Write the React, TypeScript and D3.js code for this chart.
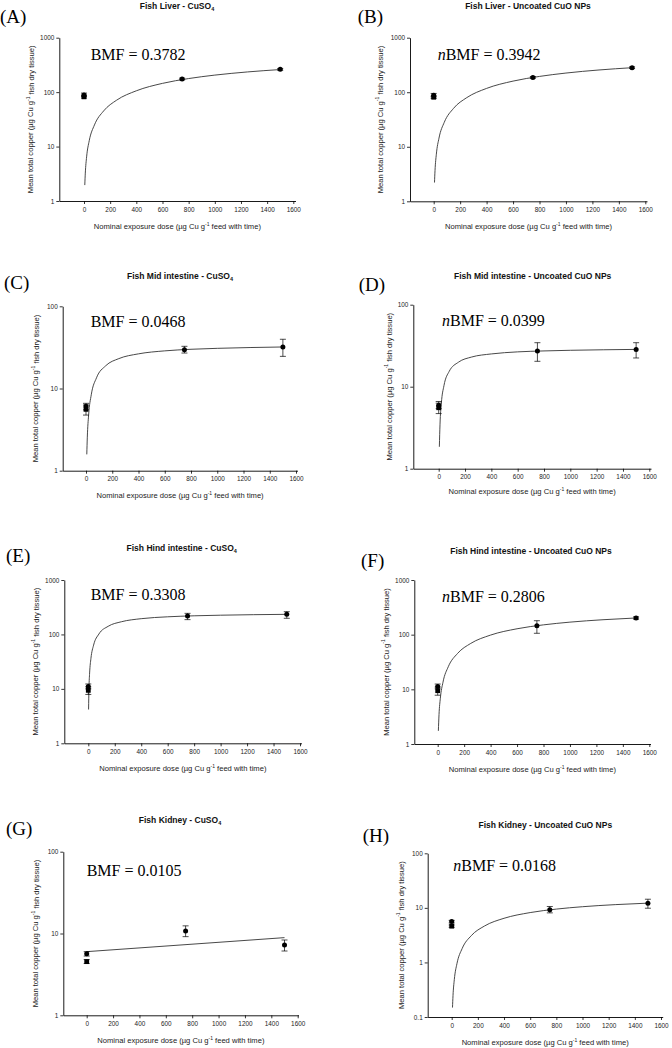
import React, { useEffect, useRef } from 'react';
import * as d3 from 'd3';

// ---------- data ----------
const doses = [0, 0, 750, 1500];
const markerShapes = ['circle', 'square', 'circle', 'circle'];
const xTicks = [0, 200, 400, 600, 800, 1000, 1200, 1400, 1600];

const panelLetters = ['(A)', '(B)', '(C)', '(D)', '(E)', '(F)', '(G)', '(H)'];
const titleMain = [
  'Fish Liver - CuSO',
  'Fish Liver - Uncoated CuO NPs',
  'Fish Mid intestine - CuSO',
  'Fish Mid intestine - Uncoated CuO NPs',
  'Fish Hind intestine - CuSO',
  'Fish Hind intestine - Uncoated CuO NPs',
  'Fish Kidney - CuSO',
  'Fish Kidney - Uncoated CuO NPs',
];
const titleSub = ['4', '', '4', '', '4', '', '4', ''];
const bmfPrefix = ['', 'n', '', 'n', '', 'n', '', 'n'];
const bmfValues = ['0.3782', '0.3942', '0.0468', '0.0399', '0.3308', '0.2806', '0.0105', '0.0168'];

const yTicks1000 = [1, 10, 100, 1000];
const yTicks100 = [1, 10, 100];
const yTicksH = [0.1, 1, 10, 100];

// means, lower and upper error limits at doses [0(control 1), 0(control 2), 750, 1500]
const liverCuSO4Mean = [89, 82, 174, 262];
const liverCuSO4Low = [83, 78, 168, 252];
const liverCuSO4High = [96, 86, 181, 272];

const liverNPMean = [88, 81, 187, 282];
const liverNPLow = [82, 77, 180, 272];
const liverNPHigh = [95, 85, 194, 292];

const midCuSO4Mean = [6.07, 5.58, 29.7, 32];
const midCuSO4Low = [5.5, 4.75, 27, 24.6];
const midCuSO4High = [6.6, 6.3, 32.6, 39.7];

const midNPMean = [5.92, 5.54, 27.2, 28.5];
const midNPLow = [5.4, 4.7, 20.4, 22.4];
const midNPHigh = [6.6, 6.3, 34.4, 34.4];

const hindCuSO4Mean = [11.1, 9.4, 218, 234];
const hindCuSO4Low = [10, 7.9, 187, 198];
const hindCuSO4High = [12.3, 10.9, 244, 262];

const hindNPMean = [11.3, 9.45, 146, 202];
const hindNPLow = [10.2, 7.8, 106, 192];
const hindNPHigh = [12.5, 11, 180, 212];

const kidneyCuSO4Mean = [5.67, 4.53, 10.7, 7.23];
const kidneyCuSO4Low = [5.3, 4.3, 9.15, 6.11];
const kidneyCuSO4High = [6.0, 4.8, 12.4, 8.33];

const kidneyNPMean = [5.62, 4.62, 9.2, 12.2];
const kidneyNPLow = [5.3, 4.4, 8.1, 9.85];
const kidneyNPHigh = [5.9, 4.85, 10.6, 14.4];

// fitted curves: [dose, value]
const liverCuSO4Fit = [[6, 1.96], [10, 3.25], [20, 6.47], [40, 12.8], [80, 25.0], [150, 45.1], [250, 71.3], [400, 105.8], [600, 144.9], [800, 177.6], [1000, 205.5], [1250, 235], [1500, 259.9]];
const liverNPFit = [[6, 2.21], [10, 3.68], [20, 7.3], [40, 14.4], [80, 28.1], [150, 50.6], [250, 79.6], [400, 117.6], [600, 160], [800, 195], [1000, 224.8], [1250, 255.9], [1500, 281.9]];
const midCuSO4Fit = [[6, 1.58], [10, 2.56], [20, 4.77], [40, 8.38], [80, 13.5], [150, 18.9], [250, 23.1], [400, 26.4], [600, 28.7], [800, 30.0], [1000, 30.8], [1250, 31.5], [1500, 32.0]];
const midNPFit = [[5, 1.85], [10, 3.49], [20, 6.26], [40, 10.3], [80, 15.4], [150, 19.9], [250, 23.0], [400, 25.1], [600, 26.6], [800, 27.3], [1000, 27.8], [1250, 28.2], [1500, 28.5]];
const hindCuSO4Fit = [[2, 4.18], [5, 10.2], [10, 19.6], [20, 36.4], [40, 63.6], [80, 101.7], [150, 141], [250, 171], [400, 194.7], [600, 210.8], [800, 219.9], [1000, 225.7], [1250, 230.6], [1500, 234]];
const hindNPFit = [[5, 1.74], [10, 3.47], [20, 6.87], [40, 13.5], [80, 25.9], [150, 45.3], [250, 69.2], [400, 98.3], [600, 128.2], [800, 151.2], [1000, 169.5], [1250, 187.6], [1500, 202]];
const kidneyCuSO4Fit = [[0, 6.0], [1500, 8.9]];
const kidneyNPFit = [[6, 0.149], [10, 0.246], [20, 0.486], [40, 0.946], [80, 1.8], [150, 3.1], [250, 4.64], [400, 6.44], [600, 8.2], [800, 9.5], [1000, 10.5], [1250, 11.46], [1500, 12.2]];

const panelMeans = [liverCuSO4Mean, liverNPMean, midCuSO4Mean, midNPMean, hindCuSO4Mean, hindNPMean, kidneyCuSO4Mean, kidneyNPMean];
const panelLows = [liverCuSO4Low, liverNPLow, midCuSO4Low, midNPLow, hindCuSO4Low, hindNPLow, kidneyCuSO4Low, kidneyNPLow];
const panelHighs = [liverCuSO4High, liverNPHigh, midCuSO4High, midNPHigh, hindCuSO4High, hindNPHigh, kidneyCuSO4High, kidneyNPHigh];
const panelFits = [liverCuSO4Fit, liverNPFit, midCuSO4Fit, midNPFit, hindCuSO4Fit, hindNPFit, kidneyCuSO4Fit, kidneyNPFit];
const panelYTicks = [yTicks1000, yTicks1000, yTicks100, yTicks100, yTicks1000, yTicks1000, yTicks100, yTicksH];

// ---------- layout ----------
const layouts = [
  { axisX: 59.3, x0: 84, x1600: 293.3, xEnd: 295.5, yTop: 37.7, yBot: 201, titleX: 177, titleY: 9.3, letterX: 0, letterY: 22.7, bmfX: 90.7, bmfY: 60, yLabelX: 30.7, xLabelY: 228.5 },
  { axisX: 410, x0: 433.7, x1600: 645.3, xEnd: 647, yTop: 37.7, yBot: 201.3, titleX: 528, titleY: 9.3, letterX: 357.7, letterY: 22.7, bmfX: 437.7, bmfY: 60, yLabelX: 380.3, xLabelY: 228.5 },
  { axisX: 62.7, x0: 86, x1600: 296, xEnd: 297.5, yTop: 306.3, yBot: 470.7, titleX: 180, titleY: 279.3, letterX: 4, letterY: 289, bmfX: 90.7, bmfY: 327, yLabelX: 35.7, xLabelY: 497.7 },
  { axisX: 413.3, x0: 438.7, x1600: 649.3, xEnd: 651, yTop: 304.7, yBot: 468.7, titleX: 532.7, titleY: 278.7, letterX: 358.7, letterY: 291.3, bmfX: 442, bmfY: 326.3, yLabelX: 389.3, xLabelY: 494.3 },
  { axisX: 64.3, x0: 88.3, x1600: 300, xEnd: 301.5, yTop: 580, yBot: 743.3, titleX: 181.7, titleY: 551.3, letterX: 6, letterY: 561.7, bmfX: 90.7, bmfY: 600, yLabelX: 35.7, xLabelY: 770.7 },
  { axisX: 414.3, x0: 437.7, x1600: 649.3, xEnd: 650.5, yTop: 580, yBot: 744, titleX: 531, titleY: 554, letterX: 361, letterY: 566.7, bmfX: 442, bmfY: 602.3, yLabelX: 386, xLabelY: 772.3 },
  { axisX: 63.3, x0: 86.7, x1600: 297.7, xEnd: 298.5, yTop: 851.7, yBot: 1015.3, titleX: 180, titleY: 822.7, letterX: 6, letterY: 835.3, bmfX: 86.7, bmfY: 876, yLabelX: 35.7, xLabelY: 1043.3 },
  { axisX: 427.7, x0: 451.7, x1600: 661, xEnd: 662.7, yTop: 853.3, yBot: 1017, titleX: 545.3, titleY: 827.7, letterX: 362.7, letterY: 842, bmfX: 453.3, bmfY: 871, yLabelX: 401, xLabelY: 1045 },
];

const SANS = '"Liberation Sans", Arial, sans-serif';
const SERIF = '"Liberation Serif", "Times New Roman", serif';

function Panel({ i }: { i: number }) {
  const L = layouts[i];
  const xAxisRef = useRef<SVGGElement>(null);
  const yAxisRef = useRef<SVGGElement>(null);
  const yt = panelYTicks[i];
  const xs = d3.scaleLinear().domain([0, 1600]).range([L.x0, L.x1600]);
  const xAxisScale = d3.scaleLinear().domain([xs.invert(L.axisX), xs.invert(L.xEnd)]).range([L.axisX, L.xEnd]);
  const ys = d3.scaleLog().domain([yt[0], yt[yt.length - 1]]).range([L.yBot, L.yTop]);

  useEffect(() => {
    const gx = d3.select(xAxisRef.current!);
    gx.call(d3.axisBottom(xAxisScale).tickValues(xTicks).tickSize(3).tickSizeOuter(0).tickPadding(3).tickFormat((d: any) => String(d)) as any);
    const gy = d3.select(yAxisRef.current!);
    gy.call(d3.axisLeft(ys).tickValues(yt).tickSize(3).tickSizeOuter(0).tickPadding(2).tickFormat((d: any) => String(d)) as any);
    [gx, gy].forEach((g) => {
      g.selectAll('path.domain').attr('stroke', '#000').attr('stroke-width', 0.9);
      g.selectAll('.tick line').attr('stroke', '#000').attr('stroke-width', 0.8);
      g.selectAll('.tick text').attr('fill', '#222').attr('font-size', 6.4).attr('font-family', SANS);
    });
  });

  const line = d3.line<number[]>().x((d) => xs(d[0])).y((d) => ys(d[1])).curve(d3.curveMonotoneX);
  const means = panelMeans[i];
  const lows = panelLows[i];
  const highs = panelHighs[i];
  const midY = (L.yTop + L.yBot) / 2;
  const axisMid = (L.axisX + L.xEnd) / 2;

  return (
    <g>
      <text x={L.letterX} y={L.letterY} fontFamily={SERIF} fontSize={19} fill="#000">{panelLetters[i]}</text>
      <text x={L.titleX} y={L.titleY} textAnchor="middle" fontFamily={SANS} fontSize={8.5} fontWeight="bold" fill="#111">
        {titleMain[i]}
        {titleSub[i] ? <tspan fontSize={5.5} dy={2}>{titleSub[i]}</tspan> : null}
      </text>
      <text x={L.bmfX} y={L.bmfY} fontFamily={SERIF} fontSize={16} fill="#000">
        {bmfPrefix[i] ? <tspan fontStyle="italic">{bmfPrefix[i]}</tspan> : null}
        {`BMF = ${bmfValues[i]}`}
      </text>
      <g ref={xAxisRef} transform={`translate(0,${L.yBot})`} />
      <g ref={yAxisRef} transform={`translate(${L.axisX},0)`} />
      <text transform={`translate(${L.yLabelX},${midY}) rotate(-90)`} textAnchor="middle" dominantBaseline="central" fontFamily={SANS} fontSize={7.6} fill="#222">
        Mean total copper (µg Cu g<tspan fontSize={5} dy={-3}>-1</tspan><tspan dy={3}> fish dry tissue)</tspan>
      </text>
      <text x={axisMid} y={L.xLabelY} textAnchor="middle" fontFamily={SANS} fontSize={7.6} fill="#222">
        Nominal exposure dose (µg Cu g<tspan fontSize={5} dy={-3}>-1</tspan><tspan dy={3}> feed with time)</tspan>
      </text>
      <path d={line(panelFits[i] as number[][]) || ''} fill="none" stroke="#333" strokeWidth={0.9} />
      {doses.map((d, k) => {
        const cx = xs(d);
        const cy = ys(means[k]);
        const y1 = ys(lows[k]);
        const y2 = ys(highs[k]);
        return (
          <g key={k}>
            <line x1={cx} x2={cx} y1={y1} y2={y2} stroke="#000" strokeWidth={0.7} />
            <line x1={cx - 3} x2={cx + 3} y1={y1} y2={y1} stroke="#000" strokeWidth={0.7} />
            <line x1={cx - 3} x2={cx + 3} y1={y2} y2={y2} stroke="#000" strokeWidth={0.7} />
            {markerShapes[k] === 'square' ? (
              <rect x={cx - 2.4} y={cy - 2.4} width={4.8} height={4.8} fill="#000" />
            ) : (
              <circle cx={cx} cy={cy} r={2.5} fill="#000" />
            )}
          </g>
        );
      })}
    </g>
  );
}

export default function App() {
  return (
    <div style={{ position: 'absolute', left: 0, top: 0 }}>
      <svg width={672} height={1048} viewBox="0 0 672 1048" style={{ display: 'block', background: '#fff' }}>
        <rect x={0} y={0} width={672} height={1048} fill="#fff" />
        {layouts.map((_, i) => (
          <Panel key={i} i={i} />
        ))}
      </svg>
    </div>
  );
}
